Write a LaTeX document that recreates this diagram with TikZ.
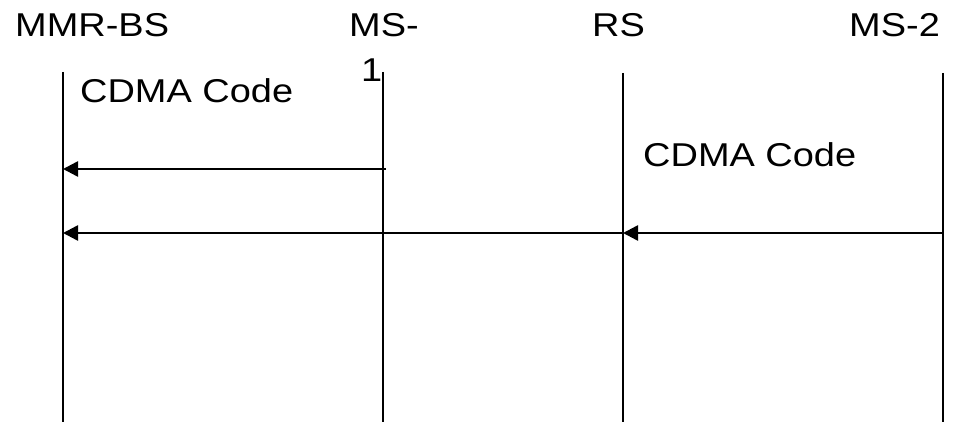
\documentclass[tikz,border=0pt]{standalone}
\usepackage{fontspec}
\setmainfont{Liberation Sans}[FakeStretch=1.15]
\usetikzlibrary{positioning, arrows.meta}

\begin{document}
\begin{tikzpicture}[x=1pt, y=-1pt,
        every node/.style={inner sep=0pt, font=\fontsize{33}{45}\selectfont},
        lifeline/.style={line width=2.5pt},
        msg/.style={line width=2.5pt, -{Triangle[length=15pt, width=15pt]}}]
        \useasboundingbox (0,0) rectangle (953,422);

        % Entities
        \node[anchor=base west] (bs) at (15,37) {MMR-BS};
        \node[anchor=base west, align=left] (ms1) at (349,82) {MS-\\\hspace*{12pt}1};
        \node[anchor=base west] (rs) at (592,37) {RS};
        \node[anchor=base west] (ms2) at (849,37) {MS-2};

        % Lifelines
        \coordinate (bsTop) at (63,72);
        \coordinate (bsBot) at (63,422);
        \coordinate (ms1Top) at (383,72);
        \coordinate (ms1Bot) at (383,422);
        \coordinate (rsTop) at (623,73);
        \coordinate (rsBot) at (623,422);
        \coordinate (ms2Top) at (943,73);
        \coordinate (ms2Bot) at (943,422);

        \draw[lifeline] (bsTop) -- (bsBot);
        \draw[lifeline] (ms1Top) -- (ms1Bot);
        \draw[lifeline] (rsTop) -- (rsBot);
        \draw[lifeline] (ms2Top) -- (ms2Bot);

        % Messages
        \node[anchor=base west] (code1) at (80,103) {CDMA Code};
        \coordinate (m1) at (386,169);
        \draw[msg] (m1) -- (bsTop |- m1);

        \node[anchor=base west] (code2) at (643,167) {CDMA Code};
        \coordinate (m2) at (0,233);
        \draw[msg] (ms2Top |- m2) -- (rsTop |- m2);
        \draw[msg] (rsTop |- m2) -- (bsTop |- m2);
    \end{tikzpicture}
\end{document}
